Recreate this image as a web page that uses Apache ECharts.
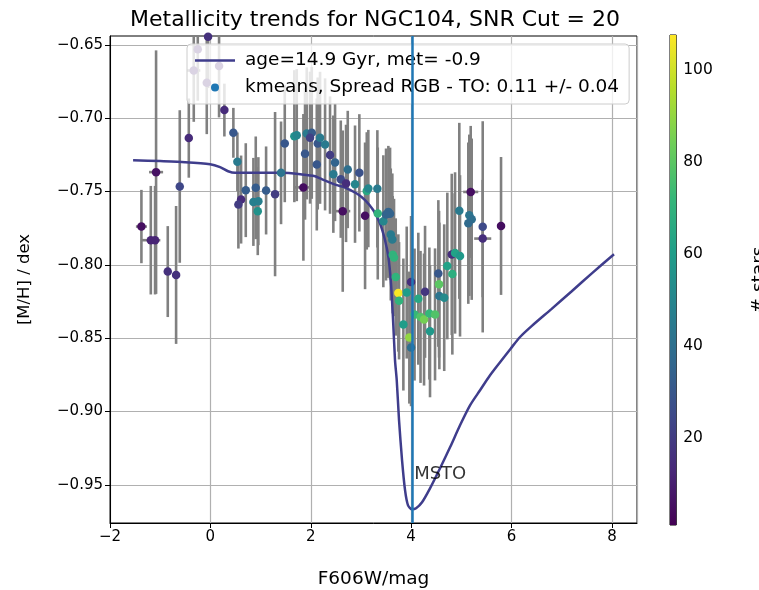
<!DOCTYPE html>
<html>
<head>
<meta charset="utf-8">
<script src="https://cdn.jsdelivr.net/npm/echarts@6.0.0/dist/echarts.min.js"></script>
<style>
    html, body { margin: 0; padding: 0; background: #fff; }
    #chart { width: 759px; height: 590px; }
</style>
</head>
<body>
<div id="chart"></div>
<script>
// kmeans cluster points: F606W, [M/H], error in [M/H], error in F606W, # stars
var ptX = [-1.374, -1.082, -1.187, -1.102, -0.849, -0.683, -0.610, -0.430, -0.251, -0.331,
    -0.072, 0.173, -0.046, 0.279, 0.458, 0.538, 0.705, 0.612, 0.558, 0.904,
    0.857, 0.956, 0.944, 1.110, 1.289, 1.408, 1.482, 1.673, 1.721, 1.920,
    2.020, 1.986, 1.886, 1.853, 2.139, 2.185, 2.285, 2.120, 2.384, 2.484,
    2.450, 2.737, 2.968, 2.598, 2.703, 2.882, 3.116, 3.147, 3.327, 2.637,
    3.082, 3.335, 3.446, 3.546, 3.580, 3.500, 3.594, 3.625, 3.633, 3.659,
    3.693, 3.745, 3.759, 3.998, 3.912, 3.845, 3.964, 3.998, 4.143, 4.068,
    4.187, 4.257, 4.363, 4.476, 4.376, 4.277, 4.542, 4.556, 4.562, 4.659,
    4.721, 4.809, 4.821, 4.875, 4.974, 4.960, 5.159, 5.207, 5.139, 5.187,
    5.426, 5.426, 5.791];
var ptY = [-0.7739, -0.7368, -0.7832, -0.7832, -0.8046, -0.8069, -0.7466, -0.7136, -0.6531, -0.6675,
    -0.6759, -0.6645, -0.6445, -0.6945, -0.7100, -0.7298, -0.7491, -0.7555, -0.7589, -0.7475,
    -0.7571, -0.7566, -0.7634, -0.7493, -0.7518, -0.7373, -0.7173, -0.7123, -0.7116, -0.7104,
    -0.7100, -0.7133, -0.7242, -0.7472, -0.7173, -0.7134, -0.7179, -0.7316, -0.7252, -0.7302,
    -0.7382, -0.7350, -0.7373, -0.7416, -0.7445, -0.7450, -0.7496, -0.7480, -0.7482, -0.7634,
    -0.7666, -0.7650, -0.7703, -0.7639, -0.7651, -0.7657, -0.7793, -0.7827, -0.7931, -0.7950,
    -0.8083, -0.8192, -0.8245, -0.8117, -0.8189, -0.8407, -0.8496, -0.8564, -0.8231, -0.8339,
    -0.8355, -0.8373, -0.8332, -0.8338, -0.8453, -0.8184, -0.8059, -0.8132, -0.8212, -0.8224,
    -0.8008, -0.7929, -0.8062, -0.7919, -0.7939, -0.7632, -0.7662, -0.7689, -0.7716, -0.7503,
    -0.7741, -0.7821, -0.7735];
var ptErr = [0.025, 0.083, 0.037, 0.037, 0.031, 0.047, 0.052, 0.027, 0.035, 0.035,
    0.035, 0.035, 0.035, 0.018, 0.017, 0.020, 0.032, 0.030, 0.030, 0.035,
    0.030, 0.030, 0.030, 0.030, 0.056, 0.035, 0.040, 0.045, 0.045, 0.045,
    0.045, 0.045, 0.045, 0.050, 0.045, 0.045, 0.045, 0.045, 0.040, 0.040,
    0.040, 0.040, 0.040, 0.040, 0.040, 0.040, 0.040, 0.040, 0.040, 0.055,
    0.050, 0.045, 0.045, 0.045, 0.045, 0.045, 0.045, 0.045, 0.040, 0.040,
    0.040, 0.040, 0.040, 0.045, 0.045, 0.045, 0.045, 0.040, 0.045, 0.045,
    0.045, 0.045, 0.045, 0.045, 0.045, 0.045, 0.050, 0.050, 0.050, 0.050,
    0.050, 0.055, 0.055, 0.055, 0.055, 0.060, 0.055, 0.055, 0.055, 0.045,
    0.072, 0.040, 0.047];
var ptXErr = [0.11, 0.14, 0.19, 0, 0, 0, 0, 0, 0, 0.13,
    0, 0, 0, 0, 0, 0, 0, 0, 0.06, 0,
    0, 0, 0, 0, 0, 0, 0, 0, 0, 0,
    0, 0, 0, 0.17, 0, 0, 0, 0, 0, 0,
    0, 0, 0, 0, 0, 0, 0, 0, 0, 0.15,
    0, 0, 0, 0, 0, 0, 0, 0, 0, 0,
    0, 0, 0, 0.08, 0, 0, 0, 0, 0, 0,
    0, 0, 0, 0, 0, 0, 0, 0, 0, 0,
    0, 0, 0, 0, 0, 0, 0, 0, 0, 0.15,
    0, 0.17, 0];
var ptCount = [5, 6, 12, 12, 16, 16, 24, 14, 12, 12,
    12, 12, 16, 14, 30, 45, 32, 14, 20, 32,
    47, 47, 55, 32, 20, 42, 30, 55, 50, 45,
    32, 22, 30, 5, 30, 45, 45, 30, 20, 35,
    45, 40, 28, 25, 15, 50, 65, 50, 45, 5,
    5, 70, 50, 35, 35, 35, 45, 45, 70, 70,
    70, 107, 70, 15, 60, 60, 90, 40, 65, 72,
    78, 85, 72, 78, 58, 18, 30, 80, 42, 52,
    62, 15, 68, 62, 58, 45, 42, 40, 38, 5,
    25, 15, 5];

// isochrone age=14.9 Gyr, met=-0.9
var isoX = [-1.540, -1.002, -0.504, -0.006, 0.193, 0.353, 0.492, 0.990, 1.428, 1.827,
    2.086, 2.185, 2.518, 2.649, 2.916, 3.082, 3.247, 3.380, 3.480, 3.546,
    3.594, 3.633, 3.679, 3.713, 3.759, 3.819, 3.879, 3.938, 4.018, 4.098,
    4.217, 4.376, 4.576, 4.775, 4.974, 5.173, 5.373, 5.572, 5.771, 5.990,
    6.170, 6.400, 6.800, 7.200, 7.600, 8.042];
var isoY = [-0.7287, -0.7293, -0.7300, -0.7314, -0.7334, -0.7362, -0.7373, -0.7373, -0.7373, -0.7384,
    -0.7396, -0.7411, -0.7457, -0.7469, -0.7514, -0.7559, -0.7628, -0.7718, -0.7832, -0.7946,
    -0.8105, -0.8330, -0.8651, -0.8787, -0.9060, -0.9333, -0.9538, -0.9640, -0.9667, -0.9660,
    -0.9619, -0.9524, -0.9387, -0.9244, -0.9094, -0.8958, -0.8855, -0.8753, -0.8664, -0.8568,
    -0.8492, -0.8418, -0.8300, -0.8180, -0.8058, -0.7928];

var mstoX = 4.02;
var yTicks = [-0.95, -0.90, -0.85, -0.80, -0.75, -0.70, -0.65];
var cbTicks = [20, 40, 60, 80, 100];
var cbMin = 1.1, cbMax = 107.6;

var viridis = ['#440154', '#482878', '#3e4989', '#31688e', '#26828e', '#1f9e89', '#35b779', '#6ece58', '#b5de2b', '#fde725'];
var font = 'DejaVu Sans';

function minus(s) {
    return String(s).replace('-', '\u2212');
}

var points = [], bars = [];
for (var i = 0; i < ptX.length; i++) {
    points.push([ptX[i], ptY[i], ptCount[i]]);
    bars.push([ptX[i], ptY[i], ptErr[i], ptXErr[i]]);
}
var iso = [];
for (var i = 0; i < isoX.length; i++) {
    iso.push([isoX[i], isoY[i]]);
}

function renderBar(params, api) {
    var x = api.value(0), y = api.value(1), e = api.value(2), xe = api.value(3);
    var a = api.coord([x, y + e]), b = api.coord([x, y - e]);
    var style = { stroke: '#808080', lineWidth: 2.6 };
    var kids = [{ type: 'line', shape: { x1: a[0], y1: a[1], x2: b[0], y2: b[1] }, style: style }];
    if (xe > 0) {
        var l = api.coord([x - xe, y]), r = api.coord([x + xe, y]);
        kids.push({ type: 'line', shape: { x1: l[0], y1: l[1], x2: r[0], y2: r[1] }, style: style });
    }
    return { type: 'group', children: kids };
}

function renderColorbar(params, api) {
    var a = api.coord([0, cbMax]), b = api.coord([1, cbMin]);
    var stops = viridis.map(function (c, k) {
        return { offset: k / (viridis.length - 1), color: c };
    });
    return {
        type: 'rect',
        shape: { x: a[0], y: a[1], width: b[0] - a[0], height: b[1] - a[1] },
        style: { fill: { type: 'linear', x: 0, y: 1, x2: 0, y2: 0, colorStops: stops } }
    };
}

var chart = echarts.init(document.getElementById('chart'));

var option = {
    animation: false,
    textStyle: { fontFamily: font },
    title: {
        text: 'Metallicity trends for NGC104, SNR Cut = 20',
        left: 370, top: 4, textAlign: 'center',
        textStyle: { fontFamily: font, fontSize: 22, fontWeight: 'normal', color: '#000' }
    },
    legend: {
        orient: 'vertical',
        left: 187, top: 44,
        padding: [7, 10, 7, 8],
        itemGap: 8,
        itemWidth: 40, itemHeight: 8,
        backgroundColor: 'rgba(255,255,255,0.8)',
        borderColor: '#cccccc', borderWidth: 1, borderRadius: 4,
        textStyle: { fontFamily: font, fontSize: 18.5, color: '#000', padding: [0, 0, 0, 5] },
        data: [
            { name: 'age=14.9 Gyr, met= -0.9', icon: 'path://M0,0L40,0L40,2.5L0,2.5Z' },
            { name: 'kmeans, Spread RGB - TO: 0.11 +/- 0.04', icon: 'circle' }
        ]
    },
    visualMap: {
        type: 'continuous', show: false,
        seriesIndex: 1, dimension: 2,
        min: cbMin, max: cbMax,
        inRange: { color: viridis }
    },
    grid: [
        { left: 110, right: 122, top: 36, bottom: 67, outerBoundsMode: 'none', show: true, borderColor: '#000', borderWidth: 1 },
        { left: 670, width: 25, top: 35, height: 490, show: true, borderColor: '#000', borderWidth: 1 }
    ],
    xAxis: [
        {
            type: 'value', gridIndex: 0,
            min: -2, max: 8.5, interval: 2,
            name: 'F606W/mag', nameLocation: 'middle', nameGap: 47,
            nameTextStyle: { fontFamily: font, fontSize: 18.5, color: '#000' },
            axisLine: { show: true, onZero: false, lineStyle: { color: '#000' } },
            axisTick: { show: true, length: 5, lineStyle: { color: '#000' } },
            axisLabel: { fontFamily: font, fontSize: 15, color: '#000', margin: 7, showMaxLabel: false, formatter: minus },
            splitLine: { show: true, lineStyle: { color: '#b0b0b0', width: 1.2 } }
        },
        { type: 'value', gridIndex: 1, min: 0, max: 1, show: false }
    ],
    yAxis: [
        {
            type: 'value', gridIndex: 0,
            min: -0.976, max: -0.644,
            name: '[M/H] / dex', nameLocation: 'middle', nameGap: 77,
            nameTextStyle: { fontFamily: font, fontSize: 16.5, color: '#000' },
            axisLine: { show: true, onZero: false, lineStyle: { color: '#000' } },
            axisTick: { show: true, length: 5, lineStyle: { color: '#000' }, customValues: yTicks },
            axisLabel: {
                fontFamily: font, fontSize: 15, color: '#000', margin: 7,
                customValues: yTicks,
                formatter: function (v) { return minus(v.toFixed(2)); }
            },
            splitLine: { show: true, lineStyle: { color: '#b0b0b0', width: 1.2 } }
        },
        {
            type: 'value', gridIndex: 1, position: 'right',
            min: cbMin, max: cbMax,
            name: '# stars', nameLocation: 'middle', nameGap: 73, nameRotate: 90,
            nameTextStyle: { fontFamily: font, fontSize: 18.5, color: '#000' },
            axisLine: { show: false },
            axisTick: { show: true, length: 5, lineStyle: { color: '#000' }, customValues: cbTicks },
            axisLabel: { fontFamily: font, fontSize: 15.5, color: '#000', margin: 7, customValues: cbTicks },
            splitLine: { show: false }
        }
    ],
    series: [
        {
            name: 'errors', type: 'custom', xAxisIndex: 0, yAxisIndex: 0,
            renderItem: renderBar, clip: true, z: 1,
            data: bars
        },
        {
            name: 'kmeans, Spread RGB - TO: 0.11 +/- 0.04', type: 'scatter',
            xAxisIndex: 0, yAxisIndex: 0, symbolSize: 8.5, z: 3,
            itemStyle: { color: '#1f77b4', opacity: 1 },
            data: points
        },
        {
            name: 'age=14.9 Gyr, met= -0.9', type: 'line',
            xAxisIndex: 0, yAxisIndex: 0, symbol: 'none', z: 2,
            smooth: 0.25,
            lineStyle: { color: '#3f3d8c', width: 2.5 },
            itemStyle: { color: '#3f3d8c' },
            data: iso,
            markLine: {
                silent: true, symbol: 'none', label: { show: false },
                lineStyle: { color: '#1f77b4', width: 2.5, type: 'solid' },
                data: [{ xAxis: mstoX }]
            }
        },
        {
            name: 'msto', type: 'scatter', xAxisIndex: 0, yAxisIndex: 0,
            symbolSize: 0, z: 4,
            label: { show: true, position: 'right', distance: 2, formatter: 'MSTO', fontFamily: font, fontSize: 18, color: '#000' },
            data: [[mstoX, -0.943]]
        },
        {
            name: 'colorbar', type: 'custom', xAxisIndex: 1, yAxisIndex: 1,
            renderItem: renderColorbar, silent: true,
            data: [[0.5, cbMax]]
        }
    ]
};

chart.setOption(option);
</script>
</body>
</html>
